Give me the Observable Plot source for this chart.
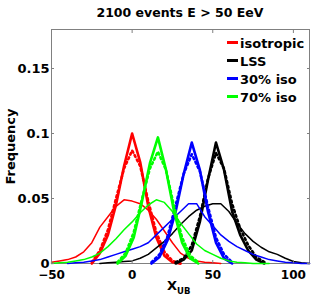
<!DOCTYPE html>
<html><head><meta charset="utf-8">
<script src="https://cdn.jsdelivr.net/npm/d3@7"></script>
<script src="https://cdn.jsdelivr.net/npm/@observablehq/plot@0.6"></script>
<style>
body{margin:0;background:#fff;font-family:"DejaVu Sans",sans-serif;}
#wrap{position:relative;width:312px;height:303px;overflow:hidden;}
#title{box-sizing:border-box;height:22px;padding:5px 3px 0 51px;line-height:15px;font-size:12.5px;font-weight:bold;text-align:center;color:#000;white-space:nowrap;}
#legend{position:absolute;left:227px;top:35px;font-size:13px;font-weight:bold;color:#000;}
#legend div{height:18px;line-height:18px;white-space:nowrap;}
#legend span.sw{display:inline-block;width:11px;height:3px;margin-right:2px;vertical-align:4px;}
#xlab{position:absolute;left:167px;top:278px;font-size:13px;font-weight:bold;color:#000;line-height:15px;}
#xlab sub{font-size:8.5px;vertical-align:-4px;}
</style></head>
<body>
<div id="wrap">
  <div id="title"></div>
  <div id="chart"></div>
  <div id="legend"></div>
  <div id="xlab">X<sub>UB</sub></div>
</div>
<script>
const titleText = "2100 events E > 50 EeV";
const xLabel = "X";
const yLabel = "Frequency";
const xTicks = [-50, 0, 50, 100];
const yTicks = [0, 0.05, 0.1, 0.15];
const seriesNames = ["isotropic", "LSS", "30% iso", "70% iso"];
const seriesColors = ["#ff0000", "#000000", "#0000ff", "#00ff00"];

// broad (thin line) distributions on a common grid
const broadX = [-50,-45,-40,-35,-30,-25,-20,-15,-10,-5,0,5,10,15,20,25,30,35,40,45,50,55,60,65,70,75,80,85,90,95,100,105,110];
const isoBroad   = [0.001,0.002,0.003,0.005,0.009,0.016,0.028,0.036,0.044,0.049,0.048,0.046,0.041,0.034,0.025,0.016,0.008,0.004,0.002,0.001,0.0005,0];
const lssBroad   = [null,null,null,null,null,null,0,0.0005,0.001,0.0015,0.002,0.004,0.007,0.012,0.017,0.023,0.030,0.036,0.041,0.044,0.046,0.046,0.040,0.031,0.023,0.017,0.0125,0.009,0.007,0.004,0.0015,0.0005,0];
const iso30Broad = [null,null,0,0.0005,0.001,0.002,0.003,0.005,0.007,0.009,0.011,0.013,0.016,0.022,0.028,0.034,0.040,0.046,0.046,0.036,0.029,0.022,0.017,0.013,0.010,0.007,0.005,0.003,0.002,0.001,0.0005,0,0];
const iso70Broad = [0,0.0005,0.001,0.002,0.003,0.005,0.008,0.013,0.019,0.026,0.032,0.039,0.045,0.049,0.047,0.040,0.031,0.023,0.015,0.010,0.007,0.004,0.002,0.001,0.0005,0,0,0];

// narrow distributions (thick solid and dotted)
const isoNarrowX = [-25,-20,-15,-10,-5,0,5,10,15,20,25,30];
const isoThick   = [0,0.008,0.022,0.045,0.075,0.100,0.078,0.044,0.020,0.006,0.001,0];
const isoDot     = [0.001,0.010,0.026,0.050,0.073,0.087,0.075,0.048,0.024,0.009,0.002,0];

const lssNarrowX = [27,32,37,42,47,52,57,62,67,72,77,82];
const lssThick   = [0,0.003,0.010,0.032,0.064,0.093,0.072,0.040,0.022,0.010,0.003,0];
const lssDot     = [0.001,0.004,0.014,0.036,0.065,0.085,0.073,0.046,0.027,0.014,0.005,0.001];

const iso30NarrowX = [12,17,22,27,32,37,42,47,52,57,62];
const iso30Thick   = [0,0.005,0.018,0.040,0.069,0.093,0.072,0.040,0.016,0.004,0];
const iso30Dot     = [0.001,0.007,0.021,0.045,0.069,0.084,0.071,0.044,0.020,0.007,0.001];

const iso70NarrowX = [-9,-4,1,6,11,16,21,26,31,36,41];
const iso70Thick   = [0,0.006,0.020,0.047,0.077,0.097,0.072,0.040,0.016,0.004,0];
const iso70Dot     = [0.001,0.008,0.024,0.049,0.073,0.086,0.072,0.044,0.020,0.006,0.001];

function rows(xs, ys) {
  const out = [];
  xs.forEach((x, i) => { if (i < ys.length && ys[i] != null) out.push({x, y: ys[i]}); });
  return out;
}

const groups = [
  {broad: isoBroad, nx: isoNarrowX, thick: isoThick, dot: isoDot},
  {broad: lssBroad, nx: lssNarrowX, thick: lssThick, dot: lssDot},
  {broad: iso30Broad, nx: iso30NarrowX, thick: iso30Thick, dot: iso30Dot},
  {broad: iso70Broad, nx: iso70NarrowX, thick: iso70Thick, dot: iso70Dot}
];

const curveMarks = [];
groups.forEach((g, k) => {
  const c = seriesColors[k];
  curveMarks.push(Plot.line(rows(broadX, g.broad), {x: "x", y: "y", stroke: c, strokeWidth: 1.5}));
  curveMarks.push(Plot.line(rows(g.nx, g.thick), {x: "x", y: "y", stroke: c, strokeWidth: 2.6}));
  curveMarks.push(Plot.line(rows(g.nx, g.dot), {x: "x", y: "y", stroke: c, strokeWidth: 2.6, strokeDasharray: "2,3"}));
});

const gray = "#808080";
const chart = Plot.plot({
  width: 312, height: 281,
  marginLeft: 51, marginRight: 3, marginTop: 7, marginBottom: 40,
  x: {domain: [-50, 110]},
  y: {domain: [0, 0.18]},
  style: {fontFamily: "'DejaVu Sans', sans-serif", fontSize: "12px", fontWeight: "bold", color: "#000", background: "transparent"},
  marks: [
    Plot.frame({stroke: gray}),
    ...curveMarks,
    Plot.axisX({ticks: xTicks, tickSize: 0, tickPadding: 7, label: null, tickFormat: d => String(d).replace("-", "\u2212")}),
    Plot.axisX({ticks: xTicks, anchor: "bottom", tickSize: -3, stroke: gray, tickFormat: () => "", label: null}),
    Plot.axisX({ticks: xTicks, anchor: "top", tickSize: -3, stroke: gray, tickFormat: () => "", label: null}),
    Plot.axisY({ticks: yTicks, tickSize: 0, tickPadding: 2, tickFormat: d => String(d), label: yLabel, labelAnchor: "center", labelArrow: "none", labelOffset: 46, fontSize: 13}),
    Plot.axisY({ticks: yTicks, anchor: "left", tickSize: -3, stroke: gray, tickFormat: () => "", label: null}),
    Plot.axisY({ticks: yTicks, anchor: "right", tickSize: -3, stroke: gray, tickFormat: () => "", label: null})
  ]
});
document.getElementById("chart").appendChild(chart);
document.getElementById("title").textContent = titleText;

const legend = document.getElementById("legend");
seriesNames.forEach((n, i) => {
  const row = document.createElement("div");
  const sw = document.createElement("span");
  sw.className = "sw";
  sw.style.background = seriesColors[i];
  row.appendChild(sw);
  row.appendChild(document.createTextNode(n));
  legend.appendChild(row);
});
</script>
</body></html>
